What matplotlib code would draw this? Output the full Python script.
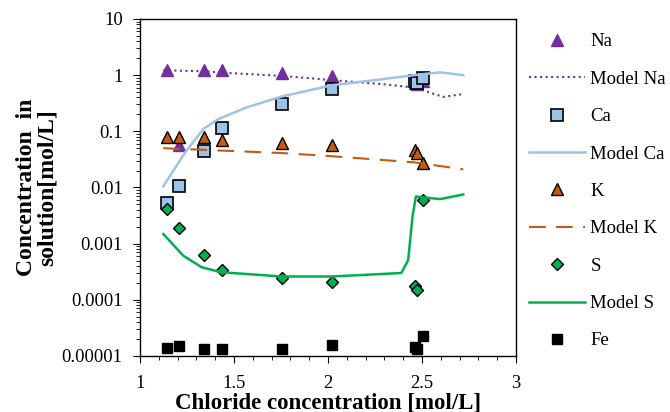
import numpy as np
import matplotlib.pyplot as plt
from matplotlib.ticker import FixedLocator, LogLocator, NullFormatter, MultipleLocator

plt.rcParams['font.family'] = ['Liberation Serif', 'DejaVu Serif']

# measured samples
x_meas = [1.145, 1.205, 1.34, 1.435, 1.755, 2.02, 2.465, 2.475, 2.505]
na = [1.25, 0.058, 1.25, 1.25, 1.1, 0.97, 0.72, 0.70, 0.80]
ca = [0.0053, 0.0107, 0.045, 0.114, 0.305, 0.556, 0.79, 0.72, 0.885]
k = [0.078, 0.078, 0.078, 0.071, 0.061, 0.057, 0.047, 0.041, 0.027]
s = [0.0041, 0.0019, 0.00063, 0.00034, 0.000245, 0.00021, 0.000178, 0.000148, 0.006]
fe = [1.39e-5, 1.48e-5, 1.33e-5, 1.31e-5, 1.32e-5, 1.58e-5, 1.43e-5, 1.33e-5, 2.3e-5]

# model curves
x_na_mod = [1.124, 1.2, 1.34, 1.45, 1.755, 2.02, 2.294, 2.46, 2.613, 2.72]
na_mod = [1.24, 1.2, 1.17, 1.1, 0.97, 0.815, 0.69, 0.6, 0.41, 0.46]
x_ca_mod = [1.124, 1.24, 1.337, 1.417, 1.567, 1.755, 2.02, 2.294, 2.46, 2.596, 2.72]
ca_mod = [0.0105, 0.042, 0.11, 0.165, 0.266, 0.417, 0.66, 0.85, 1.0, 1.12, 1.0]
x_k_mod = [1.124, 1.755, 2.02, 2.46, 2.72]
k_mod = [0.05, 0.041, 0.036, 0.028, 0.021]
x_s_mod = [1.124, 1.23, 1.328, 1.43, 1.755, 2.02, 2.39, 2.427, 2.45, 2.468, 2.596, 2.72]
s_mod = [0.00148, 0.00061, 0.00038, 0.00031, 0.00026, 0.00026, 0.00030, 0.00051, 0.0031, 0.0069, 0.0062, 0.0075]

c_na = '#7030A0'
c_ca = '#9DC3E6'
c_k = '#C55A11'
c_s = '#00B050'

fig = plt.figure(figsize=(6.7, 4.12), dpi=100)
ax = fig.add_axes([0.209, 0.136, 0.561, 0.818])

h1, = ax.plot(x_meas, na, '^', ms=9, color=c_na, mec=c_na, ls='none', label='Na')
h2, = ax.plot(x_na_mod, na_mod, ':', lw=1.5, color=c_na, label='Model Na')
h3, = ax.plot(x_meas, ca, 's', ms=8, color=c_ca, mec='black', mew=1.2, ls='none', label='Ca')
h4, = ax.plot(x_ca_mod, ca_mod, '-', lw=1.8, color=c_ca, label='Model Ca')
h5, = ax.plot(x_meas, k, '^', ms=9, color=c_k, mec='black', mew=1.0, ls='none', label='K')
h6, = ax.plot(x_k_mod, k_mod, '--', lw=1.5, color=c_k, dashes=(8, 5), label='Model K')
h7, = ax.plot(x_meas, s, 'D', ms=6, color=c_s, mec='black', mew=1.0, ls='none', label='S')
h8, = ax.plot(x_s_mod, s_mod, '-', lw=1.8, color=c_s, label='Model S')
h9, = ax.plot(x_meas, fe, 's', ms=7, color='black', mec='black', ls='none', label='Fe')

ax.set_yscale('log')
ax.set_ylim(1e-5, 10)
ax.set_xlim(1, 3)
yt = [1e-5, 1e-4, 1e-3, 1e-2, 1e-1, 1, 10]
ylab = ['0.00001', '0.0001', '0.001', '0.01', '0.1', '1', '10']
ax.yaxis.set_major_locator(FixedLocator(yt))
ax.set_yticklabels(ylab)
ax.yaxis.set_minor_locator(LogLocator(base=10, subs=np.arange(2, 10)))
ax.yaxis.set_minor_formatter(NullFormatter())
ax.xaxis.set_minor_locator(MultipleLocator(0.1))
ax.set_xticks([1, 1.5, 2, 2.5, 3])
ax.set_xticklabels(['1', '1.5', '2', '2.5', '3'])
ax.tick_params(which='major', direction='out', length=5, labelsize=13.3)
ax.tick_params(which='minor', direction='out', length=3)
ax.tick_params(axis='x', which='major', pad=9)
ax.tick_params(axis='y', which='major', pad=7.5)
for sp in ax.spines.values():
    sp.set_linewidth(1.0)

ax.set_xlabel('Chloride concentration [mol/L]', fontsize=16.5, fontweight='bold', labelpad=0)
ax.set_ylabel('Concentration  in\nsolution[mol/L]', fontsize=17, fontweight='bold',
              labelpad=3, linespacing=0.95)

fig.legend(handles=[h1, h2, h3, h4, h5, h6, h7, h8, h9], loc='upper left',
           bbox_to_anchor=(0.765, 0.96), frameon=False, fontsize=13.5,
           labelspacing=1.08, handlelength=2.95, handletextpad=0.3)

fig.savefig('out.png', dpi=100)
